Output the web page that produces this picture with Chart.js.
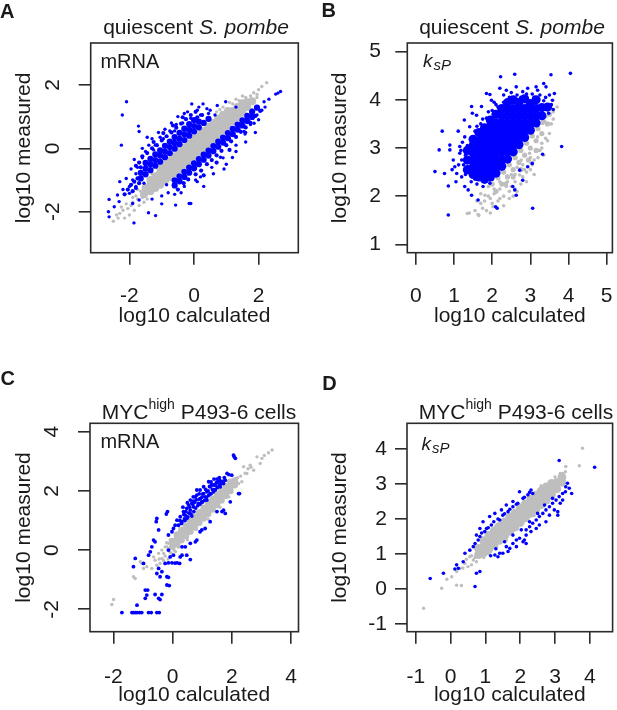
<!DOCTYPE html>
<html>
<head>
<meta charset="utf-8">
<title>log10 measured vs log10 calculated</title>
<script src="https://cdn.jsdelivr.net/npm/chart.js@4.4.1/dist/chart.umd.min.js"></script>
<style>
  html, body { margin: 0; padding: 0; background: #fff; }
  body { position: relative; width: 617px; height: 710px; overflow: hidden;
         font-family: "Liberation Sans", Arial, sans-serif; color: #1a1a1a; }
  canvas { position: absolute; }
  .lbl { position: absolute; white-space: nowrap; line-height: 1; }
  .letter { font-weight: bold; font-size: 20px; }
  .title { font-size: 21px; width: 300px; text-align: center; }
  .title sup { font-size: 14px; vertical-align: baseline; position: relative; top: -10px; }
  .inner { font-size: 20px; }
  .k { font-size: 19px; font-style: italic; }
  .k sub { font-size: 15px; vertical-align: baseline; position: relative; top: 3px; margin-left: 1px; }
</style>
</head>
<body>
<canvas id="chartA" width="308" height="345" style="left:0;top:0"></canvas>
<canvas id="chartB" width="309" height="345" style="left:308px;top:0"></canvas>
<canvas id="chartC" width="308" height="350" style="left:0;top:360px"></canvas>
<canvas id="chartD" width="309" height="350" style="left:308px;top:360px"></canvas>

<div class="lbl letter" style="left:0;top:1.1px">A</div>
<div class="lbl letter" style="left:321.5px;top:0.4px">B</div>
<div class="lbl letter" style="left:0.6px;top:368.1px">C</div>
<div class="lbl letter" style="left:322.2px;top:373.1px">D</div>

<div class="lbl title" style="left:46px;top:15.5px">quiescent <i>S. pombe</i></div>
<div class="lbl title" style="left:362px;top:15.5px">quiescent <i>S. pombe</i></div>
<div class="lbl title" style="left:49px;top:400.5px">MYC<sup>high</sup> P493-6 cells</div>
<div class="lbl title" style="left:366px;top:400.5px">MYC<sup>high</sup> P493-6 cells</div>

<div class="lbl inner" style="left:100.4px;top:51.4px">mRNA</div>
<div class="lbl inner" style="left:100.4px;top:431.4px">mRNA</div>
<div class="lbl k" style="left:423px;top:50.6px">k<sub>sP</sub></div>
<div class="lbl k" style="left:421.5px;top:433.9px">k<sub>sP</sub></div>

<script>
// tick values per panel
const aTicksX = [-2, 0, 2];
const aTicksY = [-2, 0, 2];
const bTicksX = [0, 1, 2, 3, 4, 5];
const bTicksY = [1, 2, 3, 4, 5];
const cTicksX = [-2, 0, 2, 4];
const cTicksY = [-2, 0, 2, 4];
const dTicksX = [-1, 0, 1, 2, 3, 4];
const dTicksY = [-1, 0, 1, 2, 3, 4];

// points as x,y pairs
// A: quiescent S. pombe, mRNA
const aGreyCore = [
  -1.55,-1.45, -1.5,-1.25,
  -1.35,-1.35, -1.35,-1.15, -1.35,-1.0,
  -1.2,-1.25, -1.2,-1.05, -1.2,-0.88,
  -1.05,-1.15, -1.05,-0.95, -1.05,-0.78, -1.05,-0.62,
  -0.9,-1.02, -0.9,-0.84, -0.9,-0.66, -0.9,-0.5,
  -0.75,-0.9, -0.75,-0.72, -0.75,-0.54, -0.75,-0.38,
  -0.6,-0.78, -0.6,-0.6, -0.6,-0.42, -0.6,-0.25,
  -0.45,-0.65, -0.45,-0.47, -0.45,-0.29, -0.45,-0.12,
  -0.3,-0.52, -0.3,-0.34, -0.3,-0.16, -0.3,0.02,
  -0.15,-0.4, -0.15,-0.21, -0.15,-0.02, -0.15,0.16,
  0,-0.28, 0,-0.08, 0,0.12, 0,0.3,
  0.15,-0.14, 0.15,0.05, 0.15,0.24, 0.15,0.42,
  0.3,0.0, 0.3,0.19, 0.3,0.38, 0.3,0.55,
  0.45,0.14, 0.45,0.32, 0.45,0.5, 0.45,0.68,
  0.6,0.28, 0.6,0.46, 0.6,0.64, 0.6,0.8,
  0.75,0.42, 0.75,0.6, 0.75,0.78, 0.75,0.94,
  0.9,0.56, 0.9,0.74, 0.9,0.92, 0.9,1.06,
  1.05,0.7, 1.05,0.88, 1.05,1.05, 1.05,1.18,
  1.2,0.85, 1.2,1.02, 1.2,1.18,
  1.35,0.98, 1.35,1.15, 1.35,1.3,
  1.5,1.12, 1.5,1.28, 1.5,1.42,
  1.65,1.3, 1.65,1.45,
  1.8,1.48
];
const aGreyDots = [
  -2.5,-2.3, -2.35,-2.2, -2.3,-2.05, -2.2,-1.95, -2.15,-2.2, -2.05,-1.9, -2.0,-2.1,
  -1.95,-1.8, -1.9,-1.7, -1.85,-1.95, -1.8,-1.5, -1.75,-1.6, -1.7,-1.8, -1.65,-1.35,
  -1.6,-1.55, -1.55,-1.7, -1.45,-1.6, -1.75,-1.3, -1.9,-1.55, -2.1,-1.75, -2.25,-1.85,
  -2.4,-2.1, 2.25,2.07, 2.0,1.85, 1.95,1.7, 1.85,1.75, 1.8,1.55, 1.75,1.65, 1.6,1.6,
  1.5,1.65, 1.3,1.55, 1.1,1.45, 0.9,1.3, 0.7,1.15, 1.95,1.6, 2.1,1.95, 1.4,1.5,
  1.2,1.4, 0.8,1.22, -1.3,-0.8, -0.5,0.05, 0.2,0.55, 1.0,0.5, -0.2,-0.5, 0.6,0.15
];
const aBlueCore = [
  -1.65,-0.95, -1.65,-0.77, -1.5,-0.82, -1.5,-0.64, -1.35,-0.69, -1.35,-0.5,
  -1.2,-0.55, -1.2,-0.37, -1.05,-0.42, -1.05,-0.23, -0.9,-0.28, -0.9,-0.1,
  -0.75,-0.15, -0.75,0.04, -0.6,-0.01, -0.6,0.17, -0.45,0.13, -0.45,0.3,
  -0.3,0.26, -0.3,0.44, -0.15,0.4, -0.15,0.58, 0.0,0.53, 0.0,0.7,
  0.15,0.66, 0.15,0.84, 0.3,0.8, 0.45,0.93,
  -1.5,-0.46, -1.35,-0.33, -1.2,-0.19, -1.05,-0.06, -0.9,0.08, -0.75,0.21,
  -0.6,0.35, -0.45,0.49, -0.3,0.62, -0.15,0.76, 0.0,0.89,
  -0.6,-1.01, -0.6,-1.17, -0.45,-0.88, -0.45,-1.04, -0.3,-0.74, -0.3,-0.9,
  -0.15,-0.61, -0.15,-0.77, 0.0,-0.47, 0.0,-0.63, 0.15,-0.34, 0.15,-0.5,
  0.3,-0.2, 0.3,-0.36, 0.45,-0.07, 0.45,-0.23, 0.6,0.07, 0.6,-0.09,
  0.75,0.21, 0.75,0.05, 0.9,0.34, 0.9,0.18, 1.05,0.48, 1.05,0.32,
  1.2,0.61, 1.2,0.45, 1.35,0.75, 1.35,0.59, 1.5,0.88, 1.5,0.72,
  1.65,1.02, 1.65,0.86, 1.8,1.15, 1.8,0.99, 1.95,1.28
];
const aBlueFringe = [
  -1.45,-0.15, -1.3,0.0, -1.15,0.1, -1.0,0.25, -0.85,0.38, -0.7,0.5, -0.55,0.65,
  -0.4,0.78, -0.25,0.92, -0.1,1.05, 0.05,1.15, -1.6,-0.25, -1.25,0.2, -0.95,0.48,
  -0.65,0.72, -0.35,0.98, 0.1,0.98, 0.25,1.05, -1.7,-0.45,
  -2.05,-1.3, -1.95,-1.15, -1.85,-1.05, -1.75,-0.95, -1.9,-1.35, -1.8,-1.25, -1.7,-1.1,
  -2.15,-1.45, -1.65,-0.6, -1.8,-0.55,
  -0.5,-1.3, -0.32,-1.1, -0.18,-0.98, 0.05,-0.82, 0.22,-0.7, 0.4,-0.5,
  0.55,-0.37, 0.7,-0.22, 0.85,-0.08, 1.0,0.1, 1.15,0.22, 1.3,0.36, 1.45,0.52,
  1.6,0.66, 1.75,0.8, 1.9,1.02, 2.05,1.18, 0.3,-0.85, 0.7,-0.45, 1.1,-0.05
];
const aBlueDots = [
  -2.09,1.47, -2.22,1.05, -1.72,0.7, -1.7,0.53, -2.25,0.1, -0.07,1.4, 0.28,1.4,
  0.72,1.35, 0.98,1.47, 2.53,1.71, 2.68,1.79, 2.6,1.74, 2.32,1.55, 2.17,1.47,
  1.8,1.21, 1.86,0.79, 1.55,0.53, 1.58,0.45, 1.19,-0.29, 0.93,-0.65, 0.82,-0.28,
  0.05,-1.0, 0.1,-1.05, -0.15,-1.74, -0.1,-1.74, -0.57,-1.79, -1.19,-2.12, -1.41,-2.03,
  -1.86,-2.35, -2.63,-1.61, -2.65,-2.0, -2.63,-2.16, -2.37,-1.47, -2.47,-1.84, -2.32,-1.68,
  -2.0,-1.42, -1.9,-1.74, -1.7,-1.63, -2.2,-1.3, -2.0,-1.2, -1.9,-1.0, -1.8,-0.8,
  -1.75,-0.6, -1.6,-0.3, -1.5,-0.1, -1.4,0.1, -1.3,0.3, -1.1,0.5, -0.9,0.6, -0.7,0.8,
  -0.5,1.0, -0.3,1.1, 0.1,1.2, 0.5,1.2, 1.3,1.3, -1.3,-1.6, -1.0,-1.5, -0.8,-1.4,
  -0.4,-1.4, 0.3,-1.2, 0.6,-0.8, 1.0,-0.5, 1.3,-0.1, 1.6,0.2, 1.9,0.5, 2.0,0.9,
  2.1,1.2, 1.95,1.05, -1.6,0.0, -1.2,0.1, -0.95,0.3, -0.6,0.55, -0.35,0.8, -0.1,0.95,
  0.2,1.05, 0.45,1.1, -1.8,-1.2, -1.55,-1.1, 0.55,-0.6, 0.2,-0.9, -0.3,-1.2, 0.9,-0.3,
  1.3,0.1, 1.6,0.5, 1.75,0.75, 2.2,1.3, -0.6,-1.45, -1.0,-1.75, -0.85,-1.15,
  -1.45,0.35, -1.25,-0.05, -1.05,0.35, -0.75,0.55, -0.55,0.75, -0.2,1.15, 0.15,1.3,
  -1.85,-0.35, -1.95,-0.65, -2.1,-0.95, -2.3,-1.05, 0.4,1.25, 0.65,1.05
];

// B: quiescent S. pombe, ksP
const bGreyCore = [
  2.0,2.25, 2.15,2.38, 2.3,2.5, 2.45,2.65, 2.6,2.8, 2.75,2.95, 2.9,3.1, 3.05,3.25,
  3.2,3.4, 3.35,3.55, 3.5,3.7, 2.1,2.1, 2.25,2.25, 2.4,2.4, 2.55,2.55, 2.7,2.7,
  2.85,2.85, 3.0,3.0, 3.15,3.15, 3.3,3.3, 3.45,3.5, 2.35,2.25, 2.55,2.4, 2.75,2.55,
  2.95,2.75, 3.15,2.95
];
const bGreyDots = [
  1.9,2.0, 1.8,1.9, 1.7,2.05, 1.6,1.9, 1.75,1.75, 1.55,1.7, 1.4,1.65, 1.65,1.6,
  2.0,1.85, 2.2,1.95, 2.5,2.2, 2.6,2.3, 2.8,2.4, 2.9,2.5, 3.05,2.65, 3.2,2.8,
  2.45,1.95, 2.65,2.1, 2.9,2.3, 3.1,2.45, 3.3,3.0, 3.5,3.3, 2.3,1.8, 1.95,1.65,
  1.85,1.7, 2.02,1.78, 1.81,2.02, 2.37,2.2, 2.72,2.44, 2.76,2.75, 2.98,2.89, 3.02,2.68,
  3.19,3.23, 3.32,3.51, 3.41,3.65, 3.54,3.86, 3.6,3.6, 3.4,3.2, 2.2,2.15, 2.05,2.05,
  1.9,2.2, 1.35,1.64, 1.63,1.62, 3.7,3.85, 3.25,2.95, 2.55,2.0,
  2.15,1.9, 2.3,2.0, 2.45,2.1, 2.6,2.15, 2.75,2.25, 2.85,2.55, 3.0,2.55, 3.1,2.75,
  3.2,2.95, 3.3,3.1, 3.35,2.85, 3.45,3.15, 2.5,2.45, 2.65,2.6, 2.4,2.3, 2.2,2.3,
  2.05,2.15, 1.95,1.95, 1.7,1.85, 3.55,3.5, 3.6,3.75, 3.0,2.8, 2.8,2.65, 2.6,2.45
];
const bBlueCore = [
  1.35,2.55, 1.35,2.75, 1.35,2.95,
  1.5,2.45, 1.5,2.6, 1.5,2.75, 1.5,2.9, 1.5,3.05, 1.5,3.18,
  1.65,2.4, 1.65,2.55, 1.65,2.7, 1.65,2.85, 1.65,3.0, 1.65,3.15, 1.65,3.32,
  1.8,2.35, 1.8,2.5, 1.8,2.65, 1.8,2.8, 1.8,2.95, 1.8,3.1, 1.8,3.25, 1.8,3.42,
  1.95,2.4, 1.95,2.55, 1.95,2.7, 1.95,2.85, 1.95,3.0, 1.95,3.15, 1.95,3.3, 1.95,3.45, 1.95,3.58,
  2.1,2.48, 2.1,2.62, 2.1,2.77, 2.1,2.92, 2.1,3.07, 2.1,3.22, 2.1,3.37, 2.1,3.52, 2.1,3.7,
  2.25,2.62, 2.25,2.77, 2.25,2.92, 2.25,3.07, 2.25,3.22, 2.25,3.37, 2.25,3.52, 2.25,3.67, 2.25,3.82,
  2.4,2.77, 2.4,2.92, 2.4,3.07, 2.4,3.22, 2.4,3.37, 2.4,3.52, 2.4,3.67, 2.4,3.82, 2.4,3.94,
  2.55,2.92, 2.55,3.07, 2.55,3.22, 2.55,3.37, 2.55,3.52, 2.55,3.67, 2.55,3.82, 2.55,4.0,
  2.7,3.07, 2.7,3.22, 2.7,3.37, 2.7,3.52, 2.7,3.67, 2.7,3.82, 2.7,3.95,
  2.85,3.22, 2.85,3.37, 2.85,3.52, 2.85,3.67, 2.85,3.82, 2.85,4.02,
  3.0,3.37, 3.0,3.52, 3.0,3.67, 3.0,3.82, 3.0,3.92,
  3.15,3.52, 3.15,3.67, 3.15,3.82, 3.15,4.0,
  3.3,3.67, 3.3,3.84,
  3.45,3.85
];
const bBlueDots = [
  0.69,3.35, 0.61,2.96, 0.89,3.06, 0.89,2.96, 0.5,2.51, 0.75,2.47, 0.85,2.21, 0.85,1.61,
  1.11,3.35, 1.27,3.58, 1.48,3.72, 1.46,3.86, 1.94,4.11, 1.98,3.99, 2.22,4.48, 2.59,4.53,
  2.63,4.27, 2.93,4.24, 3.15,4.27, 3.35,4.34, 3.54,4.52, 3.63,4.13, 4.05,4.55, 3.82,3.03,
  3.32,2.87, 3.05,2.68, 3.06,1.75, 2.59,2.13, 2.63,2.02, 2.54,2.2, 2.13,1.75, 2.09,1.78,
  1.37,2.13, 1.46,2.02, 1.63,1.92, 1.07,2.47, 0.98,2.75, 1.15,2.89, 1.02,2.61, 1.2,2.4,
  1.28,2.2, 1.76,2.2, 1.94,2.27, 2.72,2.54, 2.93,2.61, 2.8,2.33, 2.37,4.2, 2.2,4.24,
  1.85,4.13, 1.72,3.86, 1.59,3.68, 1.41,3.44, 1.28,3.23, 1.15,3.03, 2.8,4.17, 3.41,4.27,
  3.5,4.1, 3.58,3.99, 3.19,4.2, 1.3,2.45, 1.25,2.65, 1.3,2.85, 1.35,3.05, 1.2,2.75,
  1.45,2.3, 1.55,2.35, 1.4,2.5, 2.05,3.95, 2.3,4.1, 2.5,4.15, 2.65,4.1, 2.9,4.12,
  3.05,4.12, 3.25,4.1, 3.4,4.05, 3.55,3.9, 3.6,3.8, 1.6,3.45, 1.75,3.6, 1.9,3.75,
  2.1,3.9, 1.05,2.3, 0.95,2.55, 1.6,2.25, 1.85,2.32, 2.0,2.35, 1.55,3.35, 1.7,3.5,
  1.85,3.62, 2.0,3.78, 2.15,3.85, 2.3,3.95, 2.45,4.05, 2.75,4.05, 3.1,4.05, 3.35,3.98,
  3.48,3.72, 1.12,2.65, 1.18,2.95, 1.22,3.12
];

// C: MYC-high P493-6 cells, mRNA
const cGreyCore = [
  0.0,0.12, 0.0,0.3,
  0.15,0.2, 0.15,0.37, 0.15,0.52,
  0.3,0.34, 0.3,0.5, 0.3,0.67,
  0.45,0.48, 0.45,0.65, 0.45,0.82,
  0.6,0.63, 0.6,0.8, 0.6,0.97,
  0.75,0.78, 0.75,0.95, 0.75,1.12,
  0.9,0.93, 0.9,1.1, 0.9,1.27,
  1.05,1.08, 1.05,1.25, 1.05,1.42,
  1.2,1.23, 1.2,1.4, 1.2,1.57,
  1.35,1.38, 1.35,1.55, 1.35,1.72,
  1.5,1.53, 1.5,1.7, 1.5,1.87,
  1.65,1.68, 1.65,1.85, 1.65,2.02,
  1.8,1.84, 1.8,2.0, 1.8,2.16,
  1.95,2.0, 1.95,2.16, 1.95,2.3,
  2.1,2.2, 2.1,2.35
];
const cGreyDots = [
  -0.42,-0.45, -0.53,-0.51, -0.7,-0.62, -0.87,-0.56, -0.98,-0.62, -1.26,-0.96, -1.99,-1.67,
  -2.05,-1.84, -1.04,-0.45, -0.64,-0.23, -0.3,-0.11, -0.19,0.11, -0.08,0.34, -0.36,-0.28,
  -0.25,-0.2, -0.1,-0.05, -0.05,0.15, -0.15,-0.3, -0.3,-0.35, -0.45,-0.3, -0.2,0.25,
  0.05,0.0, -1.09,-0.39, -0.59,-0.34, -0.47,-0.11, -0.36,0.0, -0.25,0.11, -0.14,0.23,
  -1.32,-0.9, 0.1,-0.05, -0.05,-0.1, 0.2,0.1, -0.1,0.05,
  2.4,2.82, 2.62,2.87, 2.85,3.15, 3.02,3.1, 2.96,2.93, 3.24,3.29, 3.36,3.38, 2.74,2.7,
  2.51,2.59, 2.34,2.31, 2.23,2.25, 2.3,2.5, 2.45,2.6, 2.2,2.45, 3.1,3.2, 2.55,2.75,
  2.65,2.8, 2.12,2.42, 0.5,0.35, 0.8,0.7, 1.2,1.05, 1.6,1.45, 1.9,1.8, 0.3,0.7,
  0.7,1.2, 1.0,1.5
];
const cBlueDots = [
  2.06,3.21, 2.12,3.1, 2.08,3.16, 1.84,2.59, 2.0,2.53, 2.26,1.91, 1.72,2.25, 1.55,2.31,
  1.39,2.2, 1.27,2.14, 1.16,1.97, 1.05,1.91, 0.93,2.03, 0.82,2.03, 0.77,1.8, 0.6,1.69,
  0.54,1.52, 0.48,1.41, 0.37,1.3, 0.26,1.13, 0.15,1.01, 0.09,0.84, 0.03,0.73, -0.02,0.62,
  -0.14,0.51, 1.27,1.91, 1.44,2.03, 1.61,2.14, 1.16,1.69, 0.99,1.63, 0.88,1.58, 0.71,1.46,
  0.6,1.35, 0.43,1.18, 0.32,0.96, 0.2,0.84, 1.22,2.31, 1.67,2.31, 1.78,2.36, 1.05,2.14,
  0.82,1.86, 0.65,1.58, 0.48,1.07, 1.35,2.05, 1.45,2.2, 1.1,1.8, 0.95,1.75, 0.7,1.65,
  0.55,1.25, 0.4,1.05, 0.65,1.15, 1.75,2.45, 1.3,2.3, 0.9,1.9, 1.6,2.35, 1.5,2.4,
  1.2,2.0, 1.0,1.8, 0.8,1.7, 1.9,2.55, 1.4,2.4, 0.7,1.8, 0.5,1.6, 0.35,1.45,
  0.3,0.9, 0.42,1.0, 0.52,1.12, 0.62,1.22, 0.72,1.3, 0.78,1.42, 0.85,1.5, 0.92,1.55,
  1.0,1.62, 1.08,1.68, 1.15,1.78, 1.22,1.85, 1.3,1.9, 1.38,1.97, 1.45,2.05, 1.52,2.12,
  1.58,2.2, 1.65,2.25, 1.72,2.33, 0.45,1.3, 0.58,1.45, 0.68,1.55, 0.75,1.62, 0.9,1.72,
  1.02,1.9, 1.12,2.05, 1.25,2.15, 1.32,2.2, 1.48,2.28, 1.58,2.45, 0.38,1.2, 0.25,1.0,
  -0.17,1.3, -0.21,1.22, -0.53,1.07, -0.55,0.96, -0.47,0.68, -0.64,0.34, -0.59,0.28,
  -0.7,0.11, -0.75,-0.06, -0.81,-0.17, -1.26,-0.28, -1.32,-0.56, -0.98,-0.45, -0.47,-0.62,
  -0.36,-0.73, -0.25,-0.45, -0.14,-0.43, -0.02,-0.43, 0.15,-0.43, 0.24,-0.45, 0.08,-0.44,
  -0.08,-0.23, 0.03,-0.17, 0.32,-0.17, 0.6,-0.32, -0.14,0.0, -0.19,-0.9, -0.14,-0.92,
  -0.42,-0.9, -0.53,-0.79, -0.19,-1.18, -0.11,-1.2, -0.92,-1.35, -0.84,-1.35, -0.87,-1.52,
  -0.59,-1.5, -0.47,-1.63, -0.36,-1.5, -0.42,-1.67, -0.92,-1.63, -1.2,-1.86, -1.71,-2.11,
  -1.37,-2.11, -1.32,-2.11, -1.26,-2.11, -1.2,-2.11, -1.11,-2.11, -1.04,-2.11, -0.81,-2.11,
  -0.72,-2.11, -0.53,-2.11, -0.45,-2.11,
  0.6,0.23, 0.77,0.28, 0.82,0.34, 0.93,0.62, 0.99,0.68, 1.1,0.73, 1.27,0.96, 1.5,1.3,
  1.67,1.3, 1.72,1.35, 1.78,1.24, 1.95,1.63, 2.23,1.91, 0.32,0.11, 0.43,0.11, 0.48,-0.17,
  0.26,-0.23
];

// D: MYC-high P493-6 cells, ksP
const dGreyCore = [
  0.8,0.98, 0.8,1.16,
  0.95,1.04, 0.95,1.22, 0.95,1.38,
  1.1,1.14, 1.1,1.34, 1.1,1.53,
  1.25,1.26, 1.25,1.46, 1.25,1.66,
  1.4,1.39, 1.4,1.59, 1.4,1.79,
  1.55,1.52, 1.55,1.72, 1.55,1.92,
  1.7,1.65, 1.7,1.85, 1.7,2.05,
  1.85,1.77, 1.85,1.97, 1.85,2.17,
  2.0,1.9, 2.0,2.1, 2.0,2.3,
  2.15,2.03, 2.15,2.23, 2.15,2.43,
  2.3,2.16, 2.3,2.36, 2.3,2.56,
  2.45,2.28, 2.45,2.48, 2.45,2.68,
  2.6,2.41, 2.6,2.61, 2.6,2.8,
  2.75,2.54, 2.75,2.74, 2.75,2.92,
  2.9,2.7, 2.9,2.87, 2.9,3.02,
  3.05,2.86, 3.05,3.04,
  3.2,3.05, 3.2,3.2
];
const dGreyDots = [
  0.55,0.92, 0.41,0.73, 0.27,0.59, 0.17,0.5, 0.03,0.35, -0.11,0.28, 0.17,0.11, 0.31,0.1,
  -0.26,0.02, -0.78,-0.55, 0.5,0.64, 0.65,0.83, 0.74,0.78, 0.6,0.69, 0.45,0.85, 0.35,0.6,
  0.6,0.95, 0.7,0.9, 3.79,4.02, 3.7,3.52, 3.31,3.5, 3.22,3.3, 3.12,3.16, 3.03,3.07,
  3.3,3.35, 3.15,3.3, 0.85,0.95, 0.95,0.9, 1.1,1.0, 1.6,1.4, 2.4,2.1, 2.9,2.6,
  0.9,1.45, 1.3,1.8, 2.0,2.4, 2.6,2.95, 3.0,3.2
];
const dBlueDots = [
  -0.59,0.3, -0.21,0.45, 0.17,0.69, 0.22,0.59, 0.12,0.57, 0.36,0.78, 0.41,1.02, 0.55,1.11,
  0.65,1.21, 0.7,1.3, 0.79,1.4, 0.84,1.5, 0.98,1.64, 1.03,1.73, 1.17,1.83, 1.24,1.92,
  1.41,1.97, 1.5,2.11, 1.65,2.21, 1.79,2.35, 1.93,2.45, 2.08,2.59, 2.22,2.69, 2.31,2.83,
  2.36,2.73, 1.98,2.78, 1.79,2.5, 1.6,2.4, 1.46,2.26, 1.27,2.16, 1.12,2.07, 0.93,1.92,
  0.84,1.73, 0.74,1.54, 0.89,1.6, 1.08,1.75, 1.36,2.0, 1.55,2.15, 1.7,2.28, 1.89,2.42,
  2.12,2.62, 2.27,2.76, 3.12,3.67, 4.14,3.48, 0.7,0.07, 0.84,0.5, 0.74,0.45,
  1.27,0.97, 1.36,0.92, 1.5,1.02, 1.6,1.21, 1.7,1.16, 1.79,1.3, 1.89,1.4, 1.98,1.45,
  2.08,1.35, 2.17,1.54, 2.17,1.69, 2.27,1.78, 2.36,1.88, 2.46,1.97, 2.55,2.07, 2.65,2.16,
  2.74,2.26, 2.84,2.35, 2.93,2.45, 3.03,2.54, 3.12,2.64, 3.22,2.73, 3.31,2.92, 3.41,2.88,
  3.48,2.73, 3.36,3.02, 3.08,2.21, 3.08,2.11, 2.84,2.11, 2.55,1.83, 2.31,1.64, 2.12,1.4,
  1.89,1.21, 1.65,1.07, 1.41,1.02, 2.17,1.3, 2.46,1.73, 2.74,1.92, 2.98,2.26, 3.22,2.54,
  2.93,2.59, 2.7,2.4, 2.5,2.16, 2.27,1.92, 2.03,1.69, 1.79,1.54, 1.55,1.35, 3.3,2.78,
  3.15,2.45, 1.3,1.15, 1.15,0.95
];

const ink = '#1a1a1a';
const frame = '#2b2b2b';
const blue = '#0000ff';
const grey = '#bebebe';
const family = '"Liberation Sans", Arial, sans-serif';

Chart.defaults.font.family = family;
Chart.defaults.color = ink;

function pts(flat) {
  const out = [];
  for (let i = 0; i < flat.length; i += 2) out.push({ x: flat[i], y: flat[i + 1] });
  return out;
}

// lower order is drawn on top
function dots(flat, color, r, order) {
  return {
    data: pts(flat),
    backgroundColor: color,
    pointRadius: r,
    pointHoverRadius: r,
    pointBorderWidth: 0,
    borderWidth: 0,
    order: order
  };
}

// full frame round the plot + y labels turned like in R (las=0)
const panelBox = {
  id: 'panelBox',
  afterDatasetsDraw(chart) {
    const { ctx, chartArea: a } = chart;
    ctx.save();
    ctx.strokeStyle = frame;
    ctx.lineWidth = 1.6;
    ctx.strokeRect(a.left, a.top, a.right - a.left, a.bottom - a.top);
    ctx.restore();
  },
  afterDraw(chart, args, opts) {
    if (!opts.rotX) return;
    const { ctx } = chart;
    const ys = chart.scales.y;
    ctx.save();
    ctx.fillStyle = ink;
    ctx.font = '21px ' + family;
    ctx.textAlign = 'center';
    ctx.textBaseline = 'alphabetic';
    ys.ticks.forEach(t => {
      ctx.save();
      ctx.translate(opts.rotX, ys.getPixelForValue(t.value));
      ctx.rotate(-Math.PI / 2);
      ctx.fillText(String(t.value), 0, 0);
      ctx.restore();
    });
    ctx.restore();
  }
};

const tickGrid = {
  display: true,
  drawOnChartArea: false,
  drawTicks: true,
  tickLength: 12,
  color: frame,
  lineWidth: 1.6
};

function panel(id, p) {
  new Chart(document.getElementById(id), {
    type: 'scatter',
    data: { datasets: p.datasets },
    options: {
      responsive: false,
      animation: false,
      events: [],
      layout: { padding: p.pad },
      plugins: {
        legend: { display: false },
        tooltip: { enabled: false },
        panelBox: { rotX: p.rotX }
      },
      scales: {
        x: {
          type: 'linear',
          position: 'bottom',
          min: p.xr[0],
          max: p.xr[1],
          afterBuildTicks: s => { s.ticks = p.xTicks.map(v => ({ value: v })); },
          afterFit: s => { s.height = p.xH; s.paddingLeft = 0; s.paddingRight = 0; },
          grid: tickGrid,
          border: { display: false },
          ticks: { autoSkip: false, padding: p.xPad, font: { size: 21 }, color: ink },
          title: { display: true, text: 'log10 calculated', font: { size: 21 }, color: ink, padding: 0 }
        },
        y: {
          type: 'linear',
          position: 'left',
          min: p.yr[0],
          max: p.yr[1],
          afterBuildTicks: s => { s.ticks = p.yTicks.map(v => ({ value: v })); },
          afterFit: s => { s.width = p.yW; s.paddingTop = 0; s.paddingBottom = 0; },
          grid: tickGrid,
          border: { display: false },
          ticks: { display: !p.rotX, autoSkip: false, padding: p.yPad, font: { size: 21 }, color: ink },
          title: { display: true, text: 'log10 measured', font: { size: 21 }, color: ink, padding: 0 }
        }
      }
    },
    plugins: [panelBox]
  });
}

panel('chartA', {
  xr: [-3.2, 3.23], yr: [-3.29, 3.32], xTicks: aTicksX, yTicks: aTicksY,
  pad: { left: 12.1, top: 43, right: 9.7, bottom: 15.7 }, yW: 78.6, xH: 76.6,
  xPad: 19, yPad: 0, rotX: 58.5,
  datasets: [
    dots(aBlueDots, blue, 1.7, 1), dots(aBlueFringe, blue, 2.1, 2), dots(aBlueCore, blue, 3.1, 3),
    dots(aGreyDots, grey, 1.7, 4), dots(aGreyCore, grey, 4, 5)
  ]
});

panel('chartB', {
  xr: [-0.225, 5.15], yr: [0.826, 5.18], xTicks: bTicksX, yTicks: bTicksY,
  pad: { left: 19.6, top: 43, right: 3, bottom: 15.7 }, yW: 79.7, xH: 76.6,
  xPad: 19, yPad: 14.3, rotX: 0,
  datasets: [
    dots(bBlueDots, blue, 1.8, 1), dots(bBlueCore, blue, 4.6, 2),
    dots(bGreyDots, grey, 1.8, 3), dots(bGreyCore, grey, 2.6, 4)
  ]
});

panel('chartC', {
  xr: [-2.787, 4.253], yr: [-2.757, 4.284], xTicks: cTicksX, yTicks: cTicksY,
  pad: { left: 12.1, top: 63.3, right: 9.5, bottom: 2.2 }, yW: 77.9, xH: 76.1,
  xPad: 21, yPad: 0, rotX: 58.3,
  datasets: [
    dots(cBlueDots, blue, 1.9, 1),
    dots(cGreyDots, grey, 1.7, 3), dots(cGreyCore, grey, 3.4, 4)
  ]
});

panel('chartD', {
  xr: [-1.257, 4.657], yr: [-1.22, 4.734], xTicks: dTicksX, yTicks: dTicksY,
  pad: { left: 19.6, top: 63.3, right: 3, bottom: 2.2 }, yW: 79.4, xH: 76.1,
  xPad: 21, yPad: 8, rotX: 0,
  datasets: [
    dots(dBlueDots, blue, 1.8, 1),
    dots(dGreyDots, grey, 1.7, 3), dots(dGreyCore, grey, 4.4, 4)
  ]
});
</script>
</body>
</html>
